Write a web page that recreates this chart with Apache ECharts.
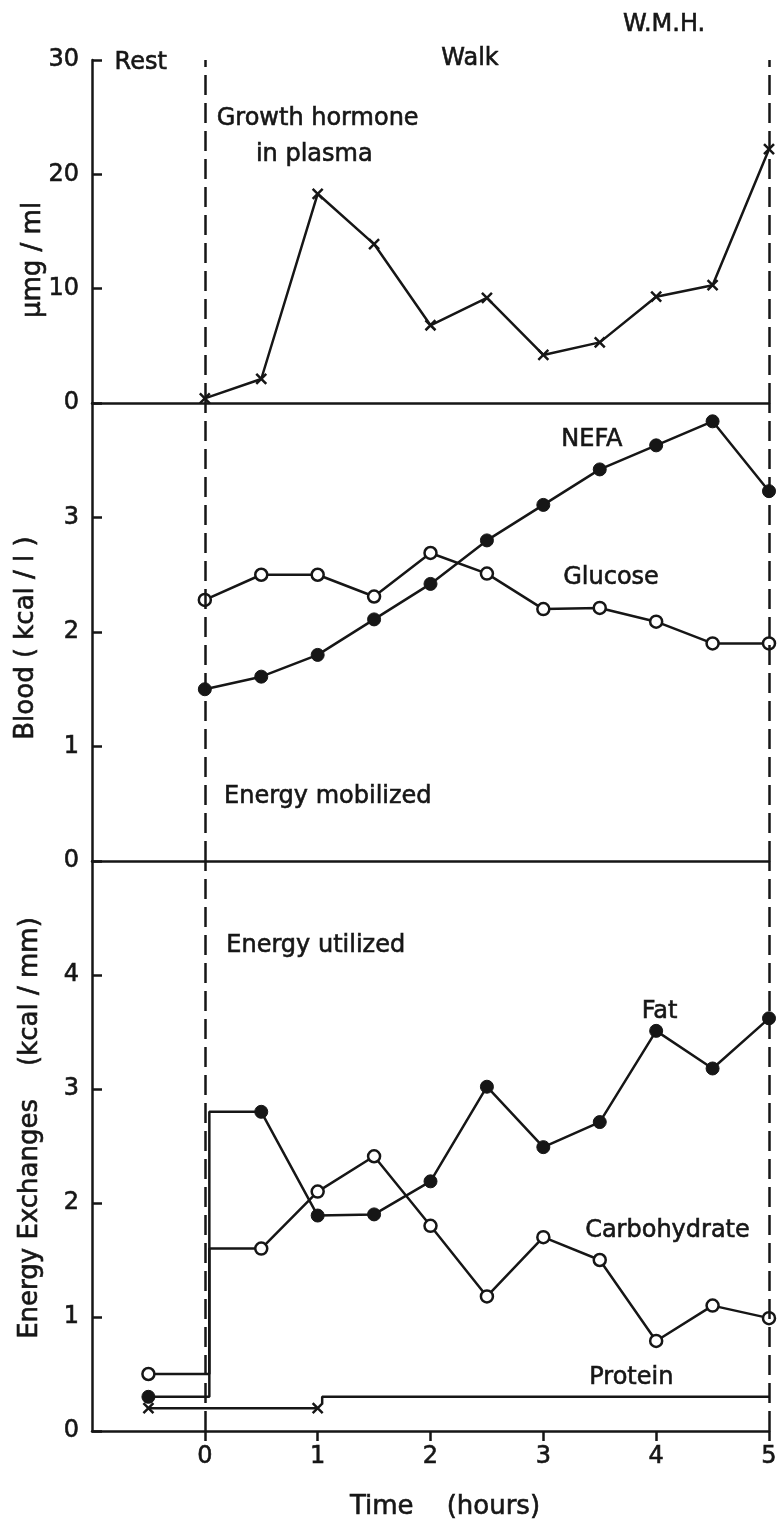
<!DOCTYPE html>
<html>
<head>
<meta charset="utf-8">
<title>Growth hormone, blood energy and energy exchanges during a walk</title>
<script src="https://cdn.jsdelivr.net/npm/echarts@6/dist/echarts.min.js"></script>
<style>
  html, body { margin: 0; padding: 0; background: #fff; }
  #chart { width: 780px; height: 1521px; }
</style>
</head>
<body>
<div id="chart"></div>
<script>
// Sampling times during the walk (hours)
const walkHours = [0, 0.5, 1, 1.5, 2, 2.5, 3, 3.5, 4, 4.5, 5];
const restHour = -0.5;

// Growth hormone in plasma (µmg/ml)
const growthHormone = [0.4, 2.1, 18.3, 13.9, 6.8, 9.2, 4.2, 5.3, 9.3, 10.3, 22.2];

// Blood energy mobilized (kcal/l)
const nefa    = [1.5, 1.61, 1.8, 2.11, 2.42, 2.8, 3.11, 3.42, 3.63, 3.84, 3.23];
const glucose = [2.28, 2.5, 2.5, 2.31, 2.69, 2.51, 2.2, 2.21, 2.09, 1.9, 1.9];

// Energy utilized (kcal/min)
const fatRest = 0.3;
const fatWalk = [2.8, 1.89, 1.9, 2.19, 3.02, 2.49, 2.71, 3.51, 3.18, 3.62];          // from 0.5 h
const carbRest = 0.5;
const carbWalk = [1.6, 2.1, 2.41, 1.8, 1.18, 1.7, 1.5, 0.79, 1.1, 0.99];            // from 0.5 h
const proteinEarly = 0.2;   // rest to 1 h
const proteinLate = 0.3;    // 1 h to 5 h
const proteinHours = [-0.5, 1, 5];

// Axis ticks
const timeTicks = [0, 1, 2, 3, 4, 5];
const ghTicks = [0, 10, 20, 30];
const bloodTicks = [0, 1, 2, 3];
const energyTicks = [0, 1, 2, 3, 4];

const INK = '#161616';
const FONT = 'DejaVu Sans';
const FS = 24;        // tick labels and annotations
const FS_TITLE = 26;  // axis titles
const LW = 2.5;

// plot frame shared by the three stacked panels
const PLOT_LEFT = 92, PLOT_RIGHT = 11, PLOT_W = 780 - PLOT_LEFT - PLOT_RIGHT;
const X_MIN = -1, X_MAX = 5;

const pair = (xs, ys) => xs.map((x, i) => [x, ys[i]]);

// walking sections begin just after the start line with a step from the resting level
const STEP = 0.04;
function stepSeries(rest, walk) {
  const pts = [{ value: [restHour, rest] },
               { value: [STEP, rest], symbol: 'none' },
               { value: [STEP, walk[0]], symbol: 'none' }];
  walk.forEach((v, i) => pts.push({ value: [walkHours[i + 1], v] }));
  return pts;
}

const crossPath = 'path://M0,0L10,10M10,0L0,10';

const labelStyle = {
  color: INK, fontFamily: FONT, fontSize: FS,
  textBorderColor: INK, textBorderWidth: 0.6
};

// panel x axes: plain baseline, no ticks
const panelX = gi => ({
  type: 'value', gridIndex: gi, min: X_MIN, max: X_MAX, interval: 1,
  axisLine: { show: true, onZero: false, lineStyle: { color: INK, width: LW } },
  axisTick: { show: false },
  axisLabel: { show: false },
  splitLine: { show: false }
});

const baseY = (gi, max, interval, ticks) => ({
  type: 'value', gridIndex: gi, min: 0, max: max, interval: interval,
  axisLine: { show: true, onZero: false, lineStyle: { color: INK, width: LW } },
  axisTick: { show: true, inside: true, length: 10, lineStyle: { color: INK, width: LW } },
  axisLabel: Object.assign({
    margin: 13,
    formatter: v => (ticks.indexOf(v) >= 0 ? String(v) : '')
  }, labelStyle),
  splitLine: { show: false }
});

// start of walk (0 h) and end of walk (5 h)
const dashedLines = {
  silent: true, symbol: 'none', animation: false,
  label: { show: false },
  lineStyle: { color: INK, width: LW, type: [20, 8] },
  data: [{ xAxis: 0 }, { xAxis: 5 }]
};

const lineBase = {
  type: 'line', animation: false, silent: true, clip: false,
  lineStyle: { color: INK, width: LW }
};

const filledDot = { symbol: 'circle', symbolSize: 13, itemStyle: { color: INK, borderColor: INK, borderWidth: 1 } };
const openDot = { symbol: 'circle', symbolSize: 12, itemStyle: { color: '#fff', borderColor: INK, borderWidth: LW } };
const crossMark = { symbol: crossPath, symbolSize: 10, itemStyle: { color: 'none', borderColor: INK, borderWidth: LW } };

// the time scale (ticks 0..5) shares the bottom panel's frame, starting at hour 0
const unitPx = PLOT_W / (X_MAX - X_MIN);
const timeScaleLeft = PLOT_LEFT + (0 - X_MIN) * unitPx;

const option = {
  backgroundColor: '#fff',
  animation: false,
  grid: [
    { left: PLOT_LEFT, right: PLOT_RIGHT, top: 60, height: 343 },
    { left: PLOT_LEFT, right: PLOT_RIGHT, top: 403, height: 458 },
    { left: PLOT_LEFT, right: PLOT_RIGHT, top: 861, height: 570 },
    { left: timeScaleLeft, right: PLOT_RIGHT, top: 861, height: 570 }
  ],
  xAxis: [
    panelX(0), panelX(1), panelX(2),
    {
      type: 'value', gridIndex: 3, min: 0, max: X_MAX, interval: 1,
      axisLine: { show: false },
      axisTick: { show: true, inside: false, length: 10, lineStyle: { color: INK, width: LW } },
      axisLabel: Object.assign({
        margin: 14,
        formatter: v => (timeTicks.indexOf(v) >= 0 ? String(v) : '')
      }, labelStyle),
      splitLine: { show: false }
    }
  ],
  yAxis: [
    baseY(0, 30, 10, ghTicks),
    baseY(1, 4, 1, bloodTicks),
    baseY(2, 5, 1, energyTicks),
    { type: 'value', gridIndex: 3, min: 0, max: 5, show: false, splitLine: { show: false } }
  ],
  series: [
    Object.assign({}, lineBase, crossMark, {
      name: 'Growth hormone', xAxisIndex: 0, yAxisIndex: 0,
      data: pair(walkHours, growthHormone), markLine: dashedLines
    }),
    Object.assign({}, lineBase, openDot, {
      name: 'Glucose', xAxisIndex: 1, yAxisIndex: 1,
      data: pair(walkHours, glucose), markLine: dashedLines
    }),
    Object.assign({}, lineBase, filledDot, {
      name: 'NEFA', xAxisIndex: 1, yAxisIndex: 1,
      data: pair(walkHours, nefa)
    }),
    Object.assign({}, lineBase, crossMark, {
      name: 'Protein', xAxisIndex: 2, yAxisIndex: 2,
      data: [[proteinHours[0], proteinEarly], [proteinHours[1], proteinEarly]],
      markLine: dashedLines
    }),
    Object.assign({}, lineBase, {
      name: 'Protein (later)', xAxisIndex: 2, yAxisIndex: 2, symbol: 'none',
      data: [[proteinHours[1] + STEP, proteinLate - 0.06], [proteinHours[1] + STEP, proteinLate], [proteinHours[2], proteinLate]]
    }),
    Object.assign({}, lineBase, openDot, {
      name: 'Carbohydrate', xAxisIndex: 2, yAxisIndex: 2,
      data: stepSeries(carbRest, carbWalk)
    }),
    Object.assign({}, lineBase, filledDot, {
      name: 'Fat', xAxisIndex: 2, yAxisIndex: 2,
      data: stepSeries(fatRest, fatWalk)
    })
  ]
};

const chart = echarts.init(document.getElementById('chart'), null, { renderer: 'canvas' });
chart.setOption(option);

// Text annotations placed in data space of each panel: [panel, x, y, text, align]
const notes = [
  [0, -0.8, 29.8, 'Rest', 'left'],
  [0, 2.35, 30.1, 'Walk', 'center'],
  [0, 4.07, 33.1, 'W.M.H.', 'center'],
  [0, 1.0, 24.9, 'Growth hormone', 'center'],
  [0, 0.97, 21.7, 'in plasma', 'center'],
  [1, 3.43, 3.68, 'NEFA', 'center'],
  [1, 3.6, 2.47, 'Glucose', 'center'],
  [1, 0.17, 0.56, 'Energy mobilized', 'left'],
  [2, 0.19, 4.26, 'Energy utilized', 'left'],
  [2, 4.03, 3.68, 'Fat', 'center'],
  [2, 4.1, 1.76, 'Carbohydrate', 'center'],
  [2, 3.78, 0.47, 'Protein', 'center']
];

// Axis titles: [text, x, y, rotated]
const axisTitles = [
  ['\u00b5mg / ml', 33, 260, true],
  ['Blood ( kcal / l )', 26, 638, true],
  ['Energy Exchanges    (kcal / mm)', 30, 1128, true],
  ['Time    (hours)', 445, 1507, false]
];

const textEl = (x, y, text, align, rot, size) => ({
  type: 'text', x: x, y: y, rotation: rot ? Math.PI / 2 : 0, silent: true,
  style: {
    text: text, fill: INK, font: size + 'px "' + FONT + '"',
    stroke: INK, lineWidth: 0.6,
    align: align, textAlign: align,
    verticalAlign: 'middle', textVerticalAlign: 'middle'
  }
});

const graphics = notes.map(n => {
  const p = chart.convertToPixel({ gridIndex: n[0] }, [n[1], n[2]]);
  return textEl(p[0], p[1], n[3], n[4], false, FS);
}).concat(axisTitles.map(t => textEl(t[1], t[2], t[0], 'center', t[3], FS_TITLE)));

chart.setOption({ graphic: { elements: graphics } });
</script>
</body>
</html>
